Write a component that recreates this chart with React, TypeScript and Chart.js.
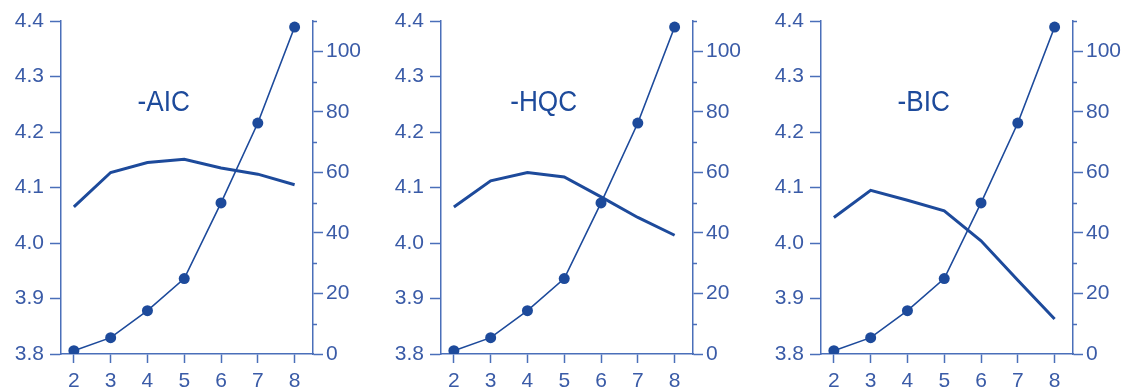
import React, { useEffect, useRef } from "react";
import { Chart, registerables } from "chart.js";

Chart.register(...registerables);

// ---- Data ----
const xValues = [2, 3, 4, 5, 6, 7, 8];
const paramCount = [1.1, 5.4, 14.3, 24.9, 49.9, 76.3, 108];
const aicValues = [4.065, 4.127, 4.145, 4.151, 4.135, 4.124, 4.105];
const hqcValues = [4.065, 4.112, 4.127, 4.119, 4.083, 4.046, 4.014];
const bicValues = [4.046, 4.095, 4.077, 4.058, 4.004, 3.933, 3.863];
const panelLabels = ["-AIC", "-HQC", "-BIC"];
const panelSeries = [aicValues, hqcValues, bicValues];
const leftTickValues = [3.8, 3.9, 4.0, 4.1, 4.2, 4.3, 4.4];
const rightMajorTicks = [0, 20, 40, 60, 80, 100];
const rightMinorTicks = [10, 30, 50, 70, 90, 110];

// ---- Styles ----
const LINE = "#1d4a9b";
const AXIS = "#4a6fb9";
const TEXT = "#3a5ba7";
const FONT = "'Liberation Sans', Arial, sans-serif";
const TICK_SIZE = 21;
const PANEL_LEFT = [0, 380, 760];
const LABEL_X = 4.44;
const LABEL_Y = 4.252;

const overlayPlugin = {
  id: "overlay",
  afterDraw(chart: any, _args: any, opts: any) {
    const ctx = chart.ctx;
    const y1 = chart.scales.y1;
    ctx.save();
    ctx.strokeStyle = AXIS;
    ctx.lineWidth = 1.5;
    for (const v of rightMinorTicks) {
      const py = Math.round(y1.getPixelForValue(v)) + 0.5;
      ctx.beginPath();
      ctx.moveTo(y1.left, py);
      ctx.lineTo(y1.left + 4, py);
      ctx.stroke();
    }
    ctx.restore();
    ctx.save();
    ctx.fillStyle = LINE;
    ctx.font = `27px ${FONT}`;
    ctx.textAlign = "center";
    ctx.textBaseline = "middle";
    const px = chart.scales.x.getPixelForValue(LABEL_X);
    const py = chart.scales.y.getPixelForValue(LABEL_Y);
    ctx.translate(px, py);
    ctx.scale(0.97, 1.12);
    ctx.fillText(opts.label, 0, 0);
    ctx.restore();
  },
};

function Panel({ index }: { index: number }) {
  const ref = useRef<HTMLCanvasElement>(null);
  useEffect(() => {
    if (!ref.current) return;
    const chart = new Chart(ref.current, {
      type: "line",
      data: {
        datasets: [
          {
            data: xValues.map((x, i) => ({ x, y: panelSeries[index][i] })),
            yAxisID: "y",
            borderColor: LINE,
            borderWidth: 3,
            pointRadius: 0,
            tension: 0,
            order: 1,
          },
          {
            data: xValues.map((x, i) => ({ x, y: paramCount[i] })),
            yAxisID: "y1",
            borderColor: LINE,
            backgroundColor: LINE,
            borderWidth: 1.6,
            pointRadius: 5.5,
            pointBackgroundColor: LINE,
            pointBorderWidth: 0,
            tension: 0,
            order: 2,
          },
        ],
      },
      options: {
        responsive: false,
        animation: false,
        events: [],
        layout: { padding: { top: 21, left: 0, right: 0, bottom: 0 } },
        plugins: {
          legend: { display: false },
          tooltip: { enabled: false },
          title: { display: false },
          overlay: { label: panelLabels[index] },
        } as any,
        scales: {
          x: {
            type: "linear",
            min: 1.65,
            max: 8.5,
            afterBuildTicks: (s: any) => {
              s.ticks = xValues.map((v) => ({ value: v }));
            },
            afterFit: (s: any) => {
              s.height = 35;
            },
            grid: {
              drawOnChartArea: false,
              drawTicks: true,
              tickLength: 9,
              tickWidth: 1.5,
              color: AXIS,
            },
            border: { display: true, color: AXIS, width: 1.5 },
            ticks: {
              color: TEXT,
              font: { size: TICK_SIZE, family: FONT },
              padding: 6,
              maxRotation: 0,
              autoSkip: false,
            },
          },
          y: {
            type: "linear",
            position: "left",
            min: 3.8,
            max: 4.4,
            afterBuildTicks: (s: any) => {
              s.ticks = leftTickValues.map((v) => ({ value: v }));
            },
            afterFit: (s: any) => {
              s.width = 61;
            },
            grid: {
              drawOnChartArea: false,
              drawTicks: true,
              tickLength: 11,
              tickWidth: 1.5,
              color: AXIS,
            },
            border: { display: true, color: AXIS, width: 1.5 },
            ticks: {
              color: TEXT,
              font: { size: TICK_SIZE, family: FONT },
              padding: 6,
              callback: (v: any) => Number(v).toFixed(1),
            },
          },
          y1: {
            type: "linear",
            position: "right",
            min: 0,
            max: 110,
            afterBuildTicks: (s: any) => {
              s.ticks = rightMajorTicks.map((v) => ({ value: v }));
            },
            afterFit: (s: any) => {
              s.width = 53;
            },
            grid: {
              drawOnChartArea: false,
              drawTicks: true,
              tickLength: 10,
              tickWidth: 1.5,
              color: AXIS,
            },
            border: { display: true, color: AXIS, width: 1.5 },
            ticks: {
              color: TEXT,
              font: { size: TICK_SIZE, family: FONT },
              padding: 3,
              callback: (v: any) => String(v),
            },
          },
        },
      } as any,
      plugins: [overlayPlugin as any],
    });
    return () => chart.destroy();
  }, [index]);
  return (
    <canvas
      ref={ref}
      width={366}
      height={389}
      style={{
        position: "absolute",
        left: PANEL_LEFT[index],
        top: 0,
        width: 366,
        height: 389,
      }}
    />
  );
}

export default function App() {
  return (
    <div
      style={{
        position: "absolute",
        left: 0,
        top: 0,
        width: 1125,
        height: 389,
        overflow: "hidden",
        background: "#ffffff",
      }}
    >
      {[0, 1, 2].map((i) => (
        <Panel key={i} index={i} />
      ))}
    </div>
  );
}
